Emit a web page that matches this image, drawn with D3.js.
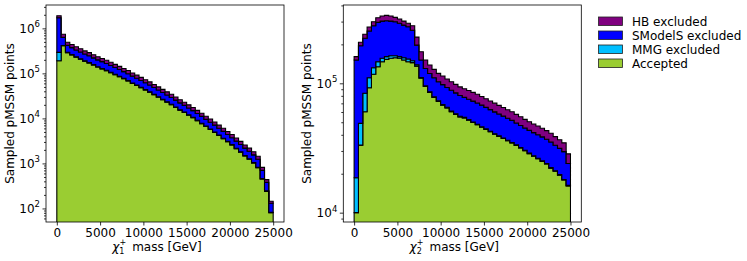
<!DOCTYPE html>
<html>
<head>
<meta charset="utf-8">
<script src="https://cdn.jsdelivr.net/npm/d3@7"></script>
<style>
  body { margin: 0; background: #fff; }
  text { font-family: "DejaVu Sans", sans-serif; fill: #000; }
</style>
</head>
<body>
<svg id="chart" width="747" height="261"></svg>
<script>
// bins: 50 bins of 500 GeV from 0 to 25000
var binWidth = 500
var nBins = 50
var xTicks = [0, 5000, 10000, 15000, 20000, 25000]

var layerNames = ["Accepted", "MMG excluded", "SModelS excluded", "HB excluded"]
var layerColors = ["#9acd32", "#00bfff", "#0000ff", "#800080"]

// chi1+ mass histogram (counts per bin, per category)
var c1Accepted = [190000, 410000, 289000, 258000, 229000, 207000, 186000, 170000, 153000, 138000,
  126000, 115000, 104000, 93500, 84000, 76000, 68000, 60000, 53800, 48000,
  42700, 38100, 33500, 29600, 26000, 22900, 20200, 17600, 15300, 13500,
  11800, 10300, 8900, 7670, 6600, 5700, 4900, 4180, 3560, 3030,
  2560, 2130, 1780, 1470, 1240, 1020, 800, 450, 240, 80]
var c1MMG = [103000, 6000, 5900, 5200, 4700, 4200, 3800, 3500, 3100, 2800,
  2600, 2300, 2100, 1900, 1700, 1550, 1400, 1200, 1100, 980,
  870, 780, 680, 600, 530, 470, 410, 360, 310, 275,
  240, 210, 180, 156, 134, 116, 100, 85, 72, 62,
  52, 44, 37, 31, 26, 22, 17, 10, 5, 2]
var c1SModelS = [1430000, 215000, 123000, 109000, 97000, 88000, 79000, 72000, 65000, 59000,
  54000, 49000, 44000, 40000, 36000, 32000, 29000, 25500, 22800, 20300,
  18100, 16200, 14200, 12500, 11100, 9700, 8600, 7500, 6500, 5700,
  5000, 4350, 3780, 3250, 2800, 2420, 2080, 1770, 1510, 1280,
  1110, 950, 810, 690, 600, 510, 420, 240, 135, 48]
var c1HB = [182000, 110000, 72000, 65000, 58000, 52000, 47000, 43000, 39000, 35000,
  32000, 29000, 26000, 23000, 21000, 19000, 17000, 15000, 13500, 12000,
  10700, 9600, 8400, 7400, 6500, 5800, 5100, 4400, 3850, 3400,
  2960, 2580, 2240, 1920, 1660, 1430, 1230, 1050, 890, 760,
  650, 545, 460, 380, 320, 270, 210, 115, 57, 15]

// chi2+ mass histogram
var c2Accepted = [10000, 33300, 60300, 92500, 117500, 134300, 146900, 153100, 156000, 157800,
  156000, 151400, 146900, 144500, 135800, 109400, 94400, 85100, 77600, 72400,
  67600, 64600, 60300, 57500, 55000, 54000, 51900, 49800, 47800, 45800,
  44000, 42200, 40400, 38900, 37400, 36000, 34600, 33100, 31600, 30100,
  28600, 27300, 26100, 24900, 23800, 22100, 20900, 19500, 17900, 16100]
var c2MMG = [8600, 15700, 23500, 17900, 14300, 12600, 9100, 7600, 7300, 5500,
  4700, 6400, 7300, 5100, 3200, 1500, 1100, 1000, 900, 900,
  800, 700, 700, 700, 600, 500, 470, 450, 430, 410,
  400, 380, 360, 350, 340, 320, 310, 300, 280, 270,
  260, 250, 230, 220, 210, 200, 190, 180, 160, 150]
var c2SModelS = [132800, 146000, 139000, 143100, 146800, 148900, 146700, 144100, 139400, 135900,
  130400, 124000, 119300, 107400, 58200, 40500, 34800, 33000, 31900, 29500,
  29300, 27400, 27300, 26100, 24900, 23300, 22900, 22600, 22200, 21600,
  20700, 20000, 19400, 18600, 18000, 17300, 16800, 15900, 15300, 14800,
  14400, 14000, 13700, 13400, 12900, 12900, 12100, 11700, 11600, 7750]
var c2HB = [9300, 12500, 16500, 18800, 20600, 25600, 28400, 30200, 28400, 24400,
  23000, 20900, 17600, 21600, 30300, 24000, 21100, 19300, 17800, 16600,
  16100, 15200, 14500, 13900, 13300, 13000, 12600, 12200, 11800, 11300,
  10900, 10500, 10100, 9700, 9300, 8900, 8600, 8200, 7900, 7500,
  7200, 6900, 6700, 6400, 6200, 5900, 5500, 5200, 5000, 4500]

var svg = d3.select("#chart")
var fs = 12

function drawPanel(id, left, right, top, bottom, layers, yDomain, majorTicks, minorTicks, sub) {
  var g = svg.append("g")
  var x = d3.scaleLinear().domain([-1250, 26250]).range([left, right])
  var y = d3.scaleLog().domain(yDomain).range([bottom, top])

  g.append("clipPath").attr("id", "clip" + id)
    .append("rect").attr("x", left).attr("y", top)
    .attr("width", right - left).attr("height", bottom - top)

  // stack the categories
  var lower = d3.range(nBins).map(function() { return 0 })
  var area = d3.area()
    .x(function(d) { return x(d.x) })
    .y0(function(d) { return y(Math.max(d.lo, yDomain[0] * 0.1)) })
    .y1(function(d) { return y(d.hi) })
    .curve(d3.curveStepAfter)

  var plot = g.append("g").attr("clip-path", "url(#clip" + id + ")")
  layers.forEach(function(vals, k) {
    var pts = vals.map(function(v, i) {
      return { x: i * binWidth, lo: lower[i], hi: lower[i] + v }
    })
    pts.push({ x: nBins * binWidth, lo: pts[nBins - 1].lo, hi: pts[nBins - 1].hi })
    plot.append("path")
      .attr("d", area(pts))
      .attr("fill", layerColors[k])
      .attr("stroke", "#000")
      .attr("stroke-width", 1.1)
    lower = lower.map(function(l, i) { return l + vals[i] })
  })

  // axes
  var xAxis = g.append("g").attr("transform", "translate(0," + bottom + ")")
    .call(d3.axisBottom(x).tickValues(xTicks).tickSize(3.5).tickPadding(3).tickFormat(d3.format("d")))
  xAxis.select(".domain").remove()
  xAxis.selectAll("text").attr("font-size", fs).attr("font-family", "DejaVu Sans")

  var yMinor = g.append("g").attr("transform", "translate(" + left + ",0)")
    .call(d3.axisLeft(y).tickValues(minorTicks).tickSize(2).tickFormat(""))
  yMinor.select(".domain").remove()
  var yMajor = g.append("g").attr("transform", "translate(" + left + ",0)")
    .call(d3.axisLeft(y).tickValues(majorTicks).tickSize(3.5).tickFormat(""))
  yMajor.select(".domain").remove()
  g.selectAll(".tick line").attr("stroke", "#000").attr("stroke-width", 0.8)

  majorTicks.forEach(function(t) {
    var txt = g.append("text")
      .attr("x", left - 6).attr("y", y(t) + 4.5)
      .attr("text-anchor", "end").attr("font-size", fs)
    txt.append("tspan").text("10")
    txt.append("tspan").attr("dy", -5.5).attr("font-size", 8.5).text(Math.round(Math.log10(t)))
  })

  g.append("rect").attr("x", left).attr("y", top)
    .attr("width", right - left).attr("height", bottom - top)
    .attr("fill", "none").attr("stroke", "#000").attr("stroke-width", 0.8)

  // axis labels
  var cx = (left + right) / 2
  var xl = g.append("text").attr("x", cx - 8).attr("y", 251)
    .attr("text-anchor", "middle").attr("font-size", fs)
  xl.append("tspan").attr("font-style", "italic").text("\u03c7")
  xl.append("tspan").attr("font-size", 8).attr("dy", 3).text(sub)
  xl.append("tspan").attr("font-size", 8).attr("dx", -5).attr("dy", -9).text("+")
  xl.append("tspan").attr("dy", 6).attr("dx", 6).text("mass [GeV]")

  g.append("text")
    .attr("transform", "translate(" + (left - 32) + "," + ((top + bottom) / 2) + ") rotate(-90)")
    .attr("text-anchor", "middle").attr("font-size", fs)
    .text("Sampled pMSSM points")
}

var minor1 = []
;[10, 100, 1000, 10000, 100000, 1000000].forEach(function(d) {
  for (var m = 2; m <= 9; m++) minor1.push(d * m)
})
minor1 = minor1.filter(function(v) { return v > 50 && v < 3.3e6 })
var minor2 = []
;[1000, 10000, 100000].forEach(function(d) {
  for (var m = 2; m <= 9; m++) minor2.push(d * m)
})
minor2 = minor2.filter(function(v) { return v > 8470 && v < 4.03e5 })

drawPanel(1, 46, 284, 5, 222, [c1Accepted, c1MMG, c1SModelS, c1HB],
  [50, 3.3e6], [1e2, 1e3, 1e4, 1e5, 1e6], minor1, "1")
drawPanel(2, 343.3, 581.3, 5, 222, [c2Accepted, c2MMG, c2SModelS, c2HB],
  [8470, 4.03e5], [1e4, 1e5], minor2, "2")

// legend
var legendOrder = [3, 2, 1, 0]
var lg = svg.append("g")
legendOrder.forEach(function(k, i) {
  var yy = 21.5 + i * 14
  lg.append("rect").attr("x", 598.5).attr("y", yy - 4.5).attr("width", 24).attr("height", 8.5)
    .attr("fill", layerColors[k]).attr("stroke", "#222").attr("stroke-width", 0.8)
  lg.append("text").attr("x", 632).attr("y", yy + 4.5).attr("font-size", fs).text(layerNames[k])
})
</script>
</body>
</html>
